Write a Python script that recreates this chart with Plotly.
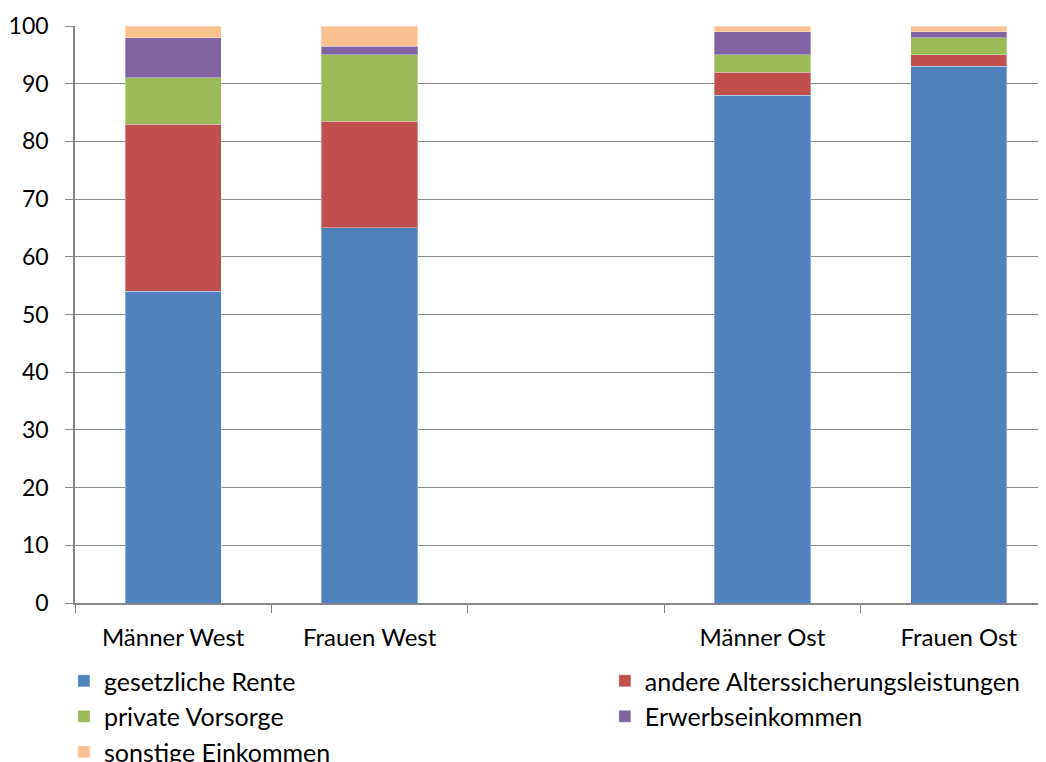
import plotly.graph_objects as go

categories = ["Männer West", "Frauen West", " ", "Männer Ost", "Frauen Ost"]
gesetzliche_rente = [54, 65, None, 88, 93]
andere_alterssicherung = [29, 18.5, None, 4, 2]
private_vorsorge = [8, 11.5, None, 3, 3]
erwerbseinkommen = [7, 1.5, None, 4, 1]
sonstige_einkommen = [2, 3.5, None, 1, 1]

series = [
    ("gesetzliche Rente", gesetzliche_rente, "#4F81BD", "legend"),
    ("andere Alterssicherungsleistungen", andere_alterssicherung, "#C0504D", "legend2"),
    ("private Vorsorge", private_vorsorge, "#9BBB59", "legend"),
    ("Erwerbseinkommen", erwerbseinkommen, "#8064A2", "legend2"),
    ("sonstige Einkommen", sonstige_einkommen, "#FAC090", "legend"),
]

FONT = "Lato"
fig = go.Figure()
for name, vals, color, lg in series:
    fig.add_trace(go.Bar(
        x=categories, y=vals, name=name, legend=lg, legendgroup=name,
        marker=dict(color=color, line=dict(color="rgba(255,255,255,0.35)", width=1)),
    ))

fig.update_layout(
    width=1038, height=754,
    barmode="stack", bargap=0.51,
    plot_bgcolor="white", paper_bgcolor="white",
    margin=dict(l=67, r=0, t=18, b=159, autoexpand=False),
    font=dict(family=FONT, size=24, color="#000000"),
    showlegend=True,
    legend=dict(x=-0.0114, xanchor="left", y=-0.0955, yanchor="top",
                orientation="v", tracegroupgap=0,
                font=dict(family=FONT, size=25), bgcolor="rgba(0,0,0,0)"),
    legend2=dict(x=0.5457, xanchor="left", y=-0.0955, yanchor="top",
                 orientation="v", tracegroupgap=0,
                 font=dict(family=FONT, size=25), bgcolor="rgba(0,0,0,0)"),
)
fig.update_xaxes(
    type="category", categoryorder="array", categoryarray=categories,
    range=[-0.5, 4.444], tickson="boundaries", ticks="outside", ticklen=8,
    tickcolor="#868686", showline=True, linecolor="#868686", linewidth=1.5,
    showgrid=False, tickfont=dict(family=FONT, size=24), ticklabelstandoff=12,
    automargin=False,
)
fig.update_yaxes(
    range=[0, 100], dtick=10, ticks="outside", ticklen=8, tickcolor="#868686",
    showline=True, linecolor="#868686", linewidth=1.5,
    showgrid=True, gridcolor="#8C8C8C", gridwidth=1.2, zeroline=False,
    tickfont=dict(family=FONT, size=23), ticklabelstandoff=12, automargin=False,
)
fig.write_html("out.html")
